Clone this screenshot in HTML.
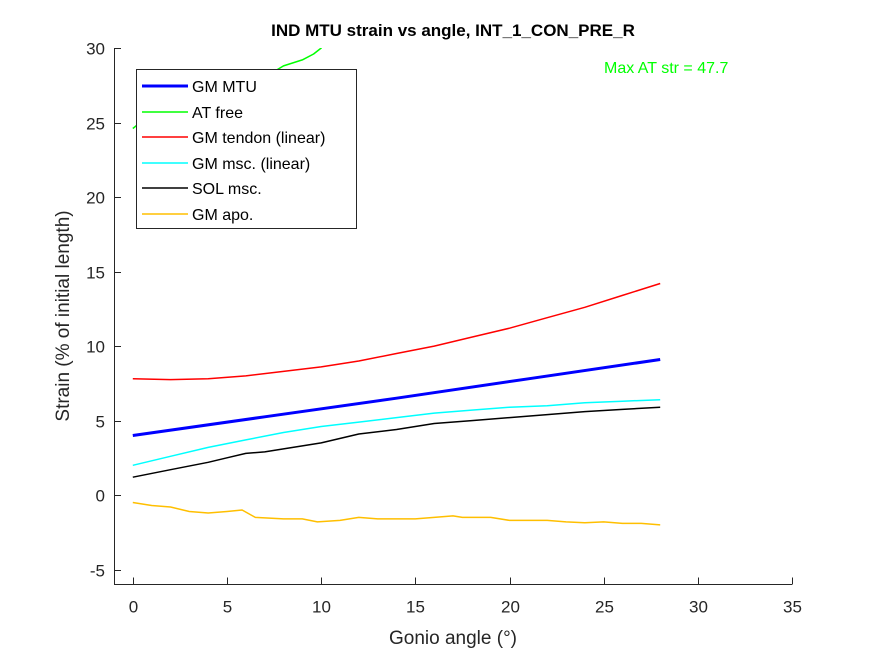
<!DOCTYPE html>
<html><head><meta charset="utf-8"><style>
body{margin:0;background:#fff;font-family:"Liberation Sans",Arial,sans-serif;}
svg text{font-family:"Liberation Sans",Arial,sans-serif;}
</style></head><body>
<svg id="chart" width="875" height="656" viewBox="0 0 875 656" xmlns="http://www.w3.org/2000/svg">
<rect width="875" height="656" fill="#fff"/>
<defs><clipPath id="plotclip"><rect x="114" y="48" width="678" height="537"/></clipPath></defs>
<text x="453" y="36" text-anchor="middle" font-size="17" font-weight="bold" fill="#000">IND MTU strain vs angle, INT_1_CON_PRE_R</text>
<g id="axes"></g>
<g id="series" clip-path="url(#plotclip)"></g>
<text x="604" y="73" font-size="16" fill="#00ff00">Max AT str = 47.7</text>
<text x="453" y="644" text-anchor="middle" font-size="19" fill="#262626">Gonio angle (°)</text>
<text transform="translate(69,316) rotate(-90)" text-anchor="middle" font-size="19" fill="#262626">Strain (% of initial length)</text>
<g id="legend"></g>
</svg>
<script>
const xTicks=[0,5,10,15,20,25,30,35];
const yTicks=[-5,0,5,10,15,20,25,30];
const mtuX=[0,7,14,21,28];
const mtuY=[4.0,5.25,6.5,7.8,9.1];
const atX=[0,0.2,0.4,4,7.6,8,9,9.6,10,10.5,28];
const atY=[24.6,24.8,25.5,27,28.5,28.8,29.2,29.6,30,31,45];
const tenX=[0,2,4,6,8,10,12,14,16,18,20,22,24,26,28];
const tenY=[7.8,7.75,7.8,8.0,8.3,8.6,9.0,9.5,10.0,10.6,11.2,11.9,12.6,13.4,14.2];
const mscX=[0,2,4,6,8,10,12,14,16,18,20,22,24,26,28];
const mscY=[2.0,2.6,3.2,3.7,4.2,4.6,4.9,5.2,5.5,5.7,5.9,6.0,6.2,6.3,6.4];
const solX=[0,2,4,5,6,7,8,10,12,14,16,18,20,22,24,26,28];
const solY=[1.2,1.7,2.2,2.5,2.8,2.9,3.1,3.5,4.1,4.4,4.8,5.0,5.2,5.4,5.6,5.75,5.9];
const apoX=[0,1,2,3,4,5,5.8,6.5,8,9,9.8,11,12,13,14,15,16,17,17.5,19,20,22,23,24,25,26,27,28];
const apoY=[-0.5,-0.7,-0.8,-1.1,-1.2,-1.1,-1.0,-1.5,-1.6,-1.6,-1.8,-1.7,-1.5,-1.6,-1.6,-1.6,-1.5,-1.4,-1.5,-1.5,-1.7,-1.7,-1.8,-1.85,-1.8,-1.9,-1.9,-2.0];

const X0=114,X1=792,Y0=584.5,Y1=48,xmin=-1,xmax=35,ymin=-6,ymax=30;
function sx(v){return X0+(v-xmin)/(xmax-xmin)*(X1-X0);}
function sy(v){return Y0-(v-ymin)/(ymax-ymin)*(Y0-Y1);}
const NS="http://www.w3.org/2000/svg";
function mk(tag,attrs,parent){const e=document.createElementNS(NS,tag);for(const k in attrs)e.setAttribute(k,attrs[k]);parent.appendChild(e);return e;}
const axes=document.getElementById('axes');
let xa=mk('line',{x1:X0,y1:Y0,x2:X1,y2:Y0,stroke:'#262626','stroke-width':1},axes);


let ya=mk('line',{x1:X0+0.5,y1:Y0,x2:X0+0.5,y2:Y1,stroke:'#262626','stroke-width':1},axes);


xTicks.forEach(t=>{
  const x=Math.round(sx(t))+0.5;
  const tk=mk('line',{x1:x,y1:Y0,x2:x,y2:Y0-7,stroke:'#262626'},axes);
  
  
  const tx=mk('text',{x:x,y:Y0+28,'text-anchor':'middle','font-size':'17',fill:'#262626'},axes);
  tx.textContent=t;
  
  
});
yTicks.forEach(t=>{
  const y=Math.round(sy(t))+0.5;
  const tk=mk('line',{x1:X0,y1:y,x2:X0+7,y2:y,stroke:'#262626'},axes);
  
  
  const tx=mk('text',{x:X0-9,y:y+6,'text-anchor':'end','font-size':'17',fill:'#262626'},axes);
  tx.textContent=t;
  
  
});
const series=[
 {name:'AT free',xs:atX,ys:atY,c:'#00ff00',w:1.5,n:'at-free-line'},
 {name:'GM tendon (linear)',xs:tenX,ys:tenY,c:'#ff0000',w:1.5,n:'gm-tendon-line'},
 {name:'GM msc. (linear)',xs:mscX,ys:mscY,c:'#00ffff',w:1.5,n:'gm-msc-line'},
 {name:'SOL msc.',xs:solX,ys:solY,c:'#000000',w:1.5,n:'sol-msc-line'},
 {name:'GM apo.',xs:apoX,ys:apoY,c:'#ffbf00',w:1.5,n:'gm-apo-line'},
 {name:'GM MTU',xs:mtuX,ys:mtuY,c:'#0000ff',w:3,n:'gm-mtu-line'}
];
const sg=document.getElementById('series');
series.forEach(s=>{
  const pts=s.xs.map((x,i)=>sx(x).toFixed(1)+','+sy(s.ys[i]).toFixed(1)).join(' ');
  const p=mk('polyline',{points:pts,fill:'none',stroke:s.c,'stroke-width':s.w,'stroke-linejoin':'round'},sg);
  
  
});
const lg=document.getElementById('legend');
const box=mk('rect',{x:136.5,y:69.5,width:220,height:159,fill:'#fff',stroke:'#262626','stroke-width':1},lg);


const legOrder=[
 {t:'GM MTU',c:'#0000ff',w:3},{t:'AT free',c:'#00ff00',w:1.5},{t:'GM tendon (linear)',c:'#ff0000',w:1.5},
 {t:'GM msc. (linear)',c:'#00ffff',w:1.5},{t:'SOL msc.',c:'#000000',w:1.5},{t:'GM apo.',c:'#ffbf00',w:1.5}];
legOrder.forEach((e,i)=>{
  const y=Math.round(86+i*25.5);
  const l=mk('line',{x1:142,y1:y,x2:188,y2:y,stroke:e.c,'stroke-width':e.w},lg);
  
  
  const t=mk('text',{x:192,y:y+6,'font-size':'16',fill:'#000'},lg);
  t.textContent=e.t;
  
  
});
</script>
</body></html>
